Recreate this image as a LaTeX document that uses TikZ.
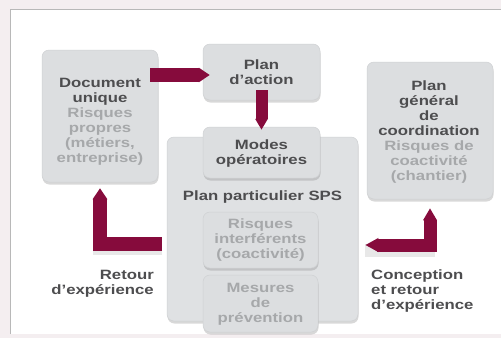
\documentclass[tikz,border=0pt]{standalone}
\usepackage{fontspec}
\usepackage{graphicx}
\newfontfamily\wfont{Liberation Sans Bold}
\newcommand{\wl}[1]{\scalebox{1.24}[1]{#1}}
\usetikzlibrary{shadows,arrows.meta}
\definecolor{boxfill}{HTML}{DCDEE0}
\definecolor{bigfill}{HTML}{DFE1E3}
\definecolor{boxedge}{HTML}{CFD1D3}
\definecolor{ttlgray}{HTML}{4D4D4F}
\definecolor{subgray}{HTML}{A6A8AA}
\definecolor{maroon}{HTML}{860B3C}
\definecolor{outerbg}{HTML}{F4EEF0}
\definecolor{panelline}{HTML}{B8B8B8}
\newcommand{\wg}[1]{\textcolor{subgray}{\wl{#1}}}
\tikzset{
  box/.style={fill=boxfill, draw=boxedge, line width=0.5pt, rounded corners=7pt,
    inner sep=0pt, drop shadow={shadow xshift=0.5pt, shadow yshift=-2.5pt, opacity=0.3, fill=gray}},
  txt/.style={font=\wfont\fontsize{13.5}{15}\selectfont, text=ttlgray, align=center, inner sep=0pt},
  subtxt/.style={txt, text=subgray},
  blockarrow/.style={draw=maroon, line width=14pt, line join=miter, line cap=butt,
    -{Triangle[length=11pt, width=0pt 1]}},
  blockarrowboth/.style={draw=maroon, line width=13pt, line join=miter, line cap=butt,
    {Triangle[length=13pt, width=0pt 1]}-{Triangle[length=12pt, width=0pt 1]}},
  arrowshadow/.style={draw=gray, opacity=0.18, line width=13pt, line cap=butt}
}
\begin{document}
\begin{tikzpicture}[x=1pt,y=-1pt]
\useasboundingbox (0,0) rectangle (501,338);
\fill[outerbg] (0,0) rectangle (501,338);
\fill[white] (10,9) rectangle (505,334);
\draw[panelline, line width=1pt] (10,334) -- (10,9) -- (505,9);

% boxes
\node[box, minimum width=116, minimum height=132] (DU) at (100,116) {};
\node[box, minimum width=117, minimum height=56] (PA) at (261.5,72) {};
\node[box, fill=bigfill, minimum width=191, minimum height=184] (PPS) at (262.5,229) {};
\node[box, minimum width=117, minimum height=51] (MO) at (261.5,152.5) {};
\node[box, minimum width=115, minimum height=56] (RI) at (260.5,240) {};
\node[box, minimum width=115, minimum height=57] (MP) at (260.5,303.5) {};
\node[box, minimum width=126, minimum height=137] (PGC) at (430,130.5) {};

% texts
\node[txt] (DUt) at (100,122) {\wl{Document}\\\wl{unique}\\\wg{Risques}\\\wg{propres}\\\wg{(métiers,}\\\wg{entreprise)}};
\node[txt] (PAt) at (PA.center) {\wl{Plan}\\\wl{d’action}};
\node[txt] (MOt) at (261.5,154) {\wl{Modes}\\\wl{opératoires}};
\node[txt, anchor=base] (PPSt) at (262.5,200) {\wl{Plan particulier SPS}};
\node[subtxt] (RIt) at (RI.center) {\wg{Risques}\\\wg{interférents}\\\wg{(coactivité)}};
\node[subtxt] (MPt) at (260.5,304) {\wg{Mesures}\\\wg{de}\\\wg{prévention}};
\node[txt] (PGCt) at (429,132) {\wl{Plan}\\\wl{général}\\\wl{de}\\\wl{coordination}\\\wg{Risques de}\\\wg{coactivité}\\\wg{(chantier)}};
\node[txt, align=right, anchor=east] (RET) at (154,284) {\wl{Retour}\\\wl{d’expérience}};
\node[txt, align=left, anchor=west] (CON) at (371,291.5) {\wl{Conception}\\\wl{et retour}\\\wl{d’expérience}};

% connectors
\coordinate (Lret) at (162,243.5);
\coordinate (Rret) at (429,245);
\draw[arrowshadow] ([yshift=-5pt]Lret) -- +(-69,0);
\draw[arrowshadow] ([xshift=7pt, yshift=-5pt]PPS.east |- Rret) -- +(70,0);
\draw[blockarrow] ([xshift=-8pt, yshift=-3pt]DU.east |- PA.west) -- ([xshift=7pt, yshift=-3pt]PA.west);
\draw[blockarrow, line width=12pt] ([yshift=10pt]PA.south) -- ([yshift=-3pt]MO.north);
\draw[blockarrow] (Lret) -| ([yshift=-6pt]DU.south);
\draw[blockarrowboth] ([xshift=7pt]PPS.east |- Rret) -| ([yshift=-9pt]PGC.south);
\end{tikzpicture}
\end{document}
